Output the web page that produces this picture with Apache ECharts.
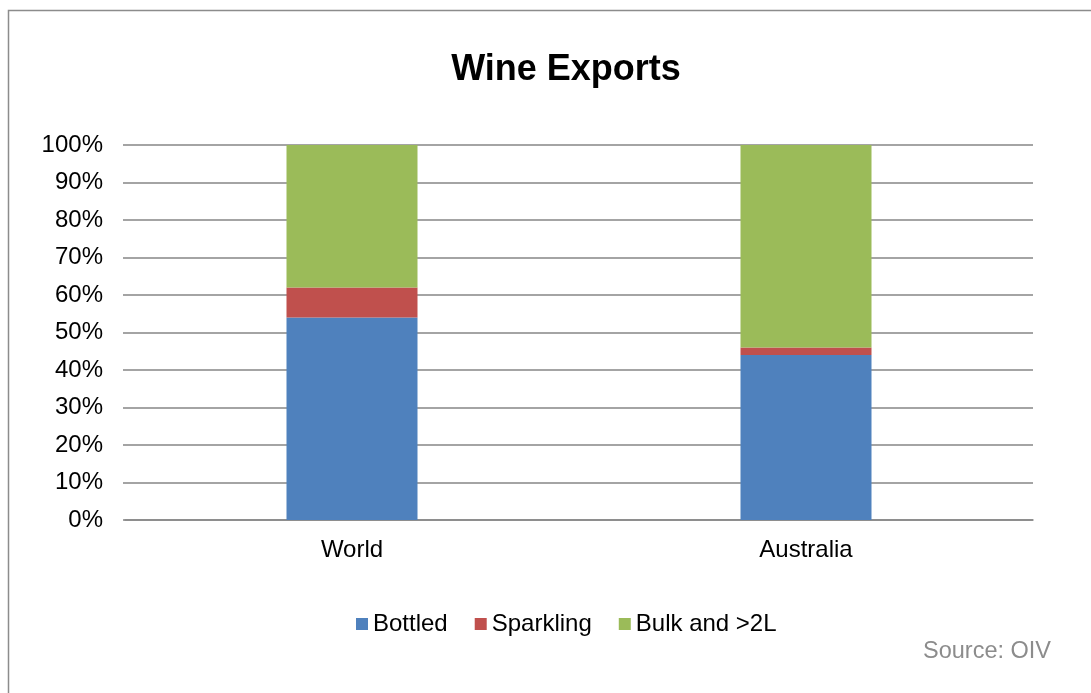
<!DOCTYPE html>
<html>
<head>
<meta charset="utf-8">
<script src="https://cdn.jsdelivr.net/npm/echarts@6/dist/echarts.min.js"></script>
<style>
  html, body { margin: 0; padding: 0; background: #fff; }
  #chart { width: 1091px; height: 693px; }
</style>
</head>
<body>
<div id="chart"></div>
<script>
// Share of wine exports by type (percent)
const categories = ['World', 'Australia'];
const bottled = [54, 44];
const sparkling = [8, 2];
const bulk = [38, 54];
const seriesNames = ['Bottled', 'Sparkling', 'Bulk and >2L'];
const seriesColors = ['#4F81BD', '#C0504D', '#9BBB59'];

const font = '"Liberation Sans", Arial, sans-serif';
const chart = echarts.init(document.getElementById('chart'));

const values = [bottled, sparkling, bulk];
chart.setOption({
  animation: false,
  title: {
    text: 'Wine Exports',
    left: 561, top: 47, textAlign: 'center',
    textStyle: { fontFamily: font, fontSize: 36, fontWeight: 'bold', color: '#000' }
  },
  graphic: [
    { type: 'rect', shape: { x: 8.5, y: 10.5, width: 1100, height: 700 },
      style: { fill: 'none', stroke: '#8c8c8c', lineWidth: 1.5 }, silent: true },
    { type: 'text', right: 40, top: 640,
      style: { text: 'Source: OIV', fontFamily: font, fontSize: 23.5, fill: '#8c8c8c' } }
  ],
  legend: {
    top: 607, left: 351,
    itemWidth: 12, itemHeight: 12, itemGap: 27,
    icon: 'rect',
    textStyle: { fontFamily: font, fontSize: 24, color: '#000' },
    data: seriesNames
  },
  grid: { left: 125, right: 58, top: 145, bottom: 173 },
  xAxis: {
    type: 'category', data: categories,
    axisLine: { lineStyle: { color: '#868686', width: 1.5 } },
    axisTick: { show: false },
    axisLabel: { fontFamily: font, fontSize: 24, color: '#000', margin: 18 }
  },
  yAxis: {
    type: 'value', min: 0, max: 100, interval: 10,
    axisLine: { show: false },
    axisTick: { show: true, length: 2, lineStyle: { color: '#868686', width: 1.5 } },
    splitLine: { lineStyle: { color: '#868686', width: 1.5 } },
    axisLabel: { fontFamily: font, fontSize: 24, color: '#000', margin: 22,
      padding: [5, 0, 0, 0],
      formatter: v => v + '%' }
  },
  series: seriesNames.map((name, i) => ({
    name, type: 'bar', stack: 'total', barWidth: 131,
    itemStyle: { color: seriesColors[i] },
    data: values[i]
  }))
});
</script>
</body>
</html>
